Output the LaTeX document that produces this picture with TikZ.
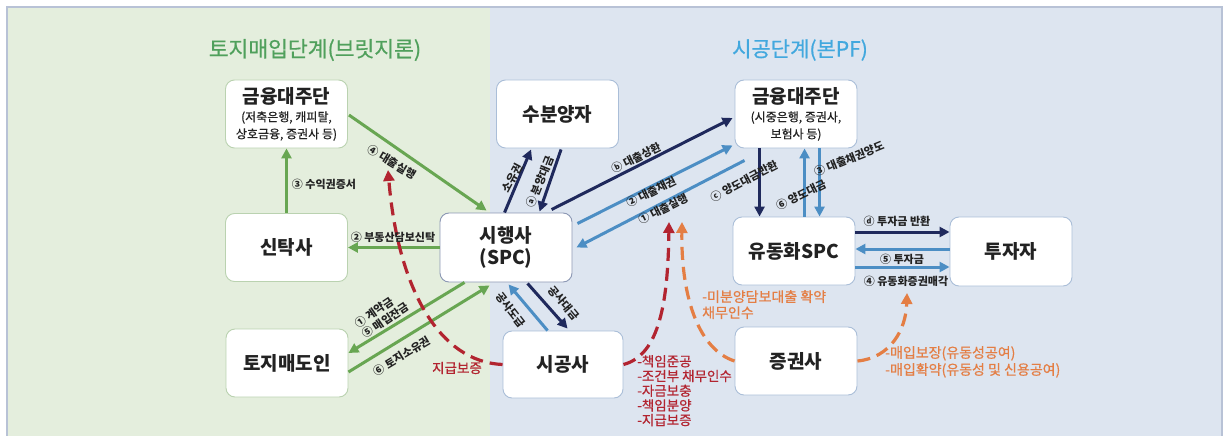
\documentclass[tikz,border=0pt]{standalone}
\usepackage{fontspec}
\setmainfont{Noto Sans CJK KR}
\newfontfamily\medf[FakeBold=0.7]{Noto Sans CJK KR}
\usetikzlibrary{arrows.meta,calc}
\definecolor{bggreen}{RGB}{228,238,221}
\definecolor{bgblue}{RGB}{221,229,240}
\definecolor{framec}{RGB}{184,194,214}
\definecolor{gline}{RGB}{104,166,82}
\definecolor{nline}{RGB}{31,41,92}
\definecolor{bline}{RGB}{76,142,196}
\definecolor{rline}{RGB}{178,36,48}
\definecolor{oline}{RGB}{228,126,68}
\definecolor{tgreen}{RGB}{80,160,92}
\definecolor{tblue}{RGB}{66,168,222}
\definecolor{bdgreen}{RGB}{186,210,176}
\definecolor{bdblue}{RGB}{170,190,216}
\definecolor{bdgrey}{RGB}{140,152,180}
\definecolor{txt}{RGB}{34,34,34}
\begin{document}
\begin{tikzpicture}[x=1pt,y=-1pt,
  box/.style={draw=bdblue,fill=white,rounded corners=9pt,line width=0.9pt,inner sep=0pt,align=center,text=txt,minimum width=122pt,minimum height=68pt,font=\fontsize{19}{22}\selectfont\bfseries},
  gbox/.style={box,draw=bdgreen},
  lab/.style={font=\fontsize{11}{13}\selectfont\bfseries,text=txt,inner sep=0pt},
  cl/.style={font=\medf\fontsize{13.5}{14.7}\selectfont,inner sep=0pt,align=left},
  arr/.style={line width=3pt,-{Triangle[length=10pt,width=10pt]}},
  garr/.style={arr,draw=gline},
  narr/.style={arr,draw=nline},
  barr/.style={arr,draw=bline},
  darr/.style={line width=3.2pt,dash pattern=on 13pt off 7pt,-{Triangle[length=11pt,width=11pt]}},
]
\useasboundingbox (0,0) rectangle (1227,436);
\fill[bggreen] (7,7) rectangle (490,436);
\fill[bgblue] (490,7) rectangle (1222,436);
\draw[framec,line width=2pt] (7,436) -- (7,7) -- (1222,7) -- (1222,436);

\node[font=\medf\fontsize{21.5}{24}\selectfont,text=tgreen] (t1) at (315,50) {토지매입단계(브릿지론)};
\node[font=\medf\fontsize{21}{24}\selectfont,text=tblue] (t2) at (800,50) {시공단계(본PF)};

\node[gbox,font=\medf\fontsize{12}{17}\selectfont] (fl) at (286.5,114) {{\normalfont\fontsize{19}{18}\selectfont\bfseries 금융대주단}\\[1pt](저축은행, 캐피탈,\\상호금융, 증권사 등)};
\node[gbox] (trust) at (286.5,247.5) {신탁사};
\node[gbox] (seller) at (287,363) {토지매도인};
\node[box,draw=bdgrey,minimum width=132pt,minimum height=69pt] (spc) at (506,247.5) {시행사\\(SPC)};
\node[box] (buyer) at (557.5,114) {수분양자};
\node[box,minimum width=120pt,minimum height=67pt] (cons) at (563,364.5) {시공사};
\node[box,font=\medf\fontsize{12}{17}\selectfont] (fr) at (796,114) {{\normalfont\fontsize{19}{18}\selectfont\bfseries 금융대주단}\\[1pt](시중은행, 증권사,\\보험사 등)};
\node[box] (lspc) at (794,251) {유동화SPC};
\node[box] (sec) at (796,361) {증권사};
\node[box,minimum height=69pt] (inv) at (1011,251.5) {투자자};

% green
\draw[garr] (trust.north) -- (fl.south);
\draw[garr] ($(fl.east)+(1,1)$) -- ($(spc.north west)+(47,-2)$);
\draw[garr] (spc.west) -- (trust.east);
\draw[garr] ($(spc.south west)+(25,0)$) -- ($(seller.east)+(0,-10)$);
\draw[garr] ($(seller.east)+(0,9)$) -- ($(spc.south west)+(50,3)$);
% navy
\draw[narr] ($(spc.north west)+(65,0)$) -- ($(buyer.south west)+(35,1)$);
\draw[narr] ($(buyer.south west)+(65,1)$) -- ($(spc.north west)+(100,-1)$);
\draw[narr] ($(spc.north west)+(112,-3)$) -- ($(fr.west)+(-2,4)$);
\draw[narr] ($(fr.south west)+(25,0)$) -- ($(lspc.north west)+(27,0)$);
\draw[narr] ($(lspc.east)+(0,-19)$) -- ($(inv.west)+(0,-19.5)$);
\draw[narr] ($(spc.south west)+(88,1)$) -- ($(cons.north west)+(65,-2)$);
% blue
\draw[barr] ($(spc.north east)+(5,11)$) -- ($(fr.south west)+(-2,-3)$);
\draw[barr] ($(fr.south west)+(10,12)$) -- ($(spc.east)+(4,0)$);
\draw[barr] ($(lspc.north west)+(72,0)$) -- ($(fr.south west)+(70,0)$);
\draw[barr] ($(fr.south west)+(85,0)$) -- ($(lspc.north west)+(87,0)$);
\draw[barr] ($(inv.west)+(0,-2.5)$) -- ($(lspc.east)+(0,-2)$);
\draw[barr] ($(lspc.east)+(0,16)$) -- ($(inv.west)+(0,15.5)$);
\draw[barr] ($(cons.north west)+(45,0)$) -- ($(spc.south west)+(69,2)$);

% dashed curves
\coordinate (r1end) at (388,170);
\coordinate (r2end) at (669,222);
\coordinate (o1end) at (682,222);
\coordinate (o2end) at (907,293);
\draw[darr,draw=rline] (cons.west) .. controls (440,362) and (398,290) .. (r1end);
\draw[darr,draw=rline] (cons.east) .. controls (660,355) and (668,300) .. (r2end);
\draw[darr,draw=oline] (sec.west) .. controls (700,350) and (681,300) .. (o1end);
\draw[darr,draw=oline] (sec.east) .. controls (890,358) and (906,330) .. (o2end);

% labels
\node[lab] (l1) at (324,184) {③ 수익권증서};
\node[lab,rotate=-31] (l2) at (392,162) {④ 대출실행};
\node[lab] (l3) at (393,237) {② 부동산담보신탁};
\node[lab,rotate=34,align=left,font=\fontsize{11}{13}\selectfont\bfseries] (l4) at (382,315) {① 계약금\\⑤ 매입잔금};
\node[lab,rotate=31] (l5) at (402,356) {⑥ 토지소유권};
\node[lab,rotate=62] (l6) at (512,178) {소유권};
\node[lab,rotate=68] (l7) at (540,182) {ⓐ 분양대금};
\node[lab,rotate=27] (l8) at (636,158) {ⓑ 대출상환};
\node[lab,rotate=27] (l9) at (651,192) {② 대출채권};
\node[lab,rotate=27] (l10) at (663,209) {① 대출실행};
\node[lab,rotate=28] (l11) at (744,181) {ⓒ 양도대금반환};
\node[lab,rotate=26] (l12) at (801,195) {⑥ 양도대금};
\node[lab,rotate=22] (l13) at (849,159) {③ 대출채권양도};
\node[lab] (l14) at (897,221) {ⓓ 투자금 반환};
\node[lab] (l15) at (902,259) {⑤ 투자금};
\node[lab] (l16) at (906,281) {④ 유동화증권매각};
\node[lab,rotate=-52] (l17) at (511,310) {공사도급};
\node[lab,rotate=-50] (l18) at (564,303) {공사대금};

\node[cl,text=rline,anchor=north west] (rl) at (637,355) {-책임준공\\-조건부 채무인수\\-자금보충\\-책임분양\\-지급보증};
\node[cl,text=rline] (rg) at (457,368) {지급보증};
\node[cl,text=oline,anchor=north west,font=\medf\fontsize{14}{16}\selectfont] (ol1) at (702,290) {-미분양담보대출 확약\\채무인수};
\node[cl,text=oline,anchor=north west,font=\medf\fontsize{14}{17}\selectfont] (ol2) at (885,346) {-매입보장(유동성공여)\\-매입확약(유동성 및 신용공여)};
\end{tikzpicture}
\end{document}
